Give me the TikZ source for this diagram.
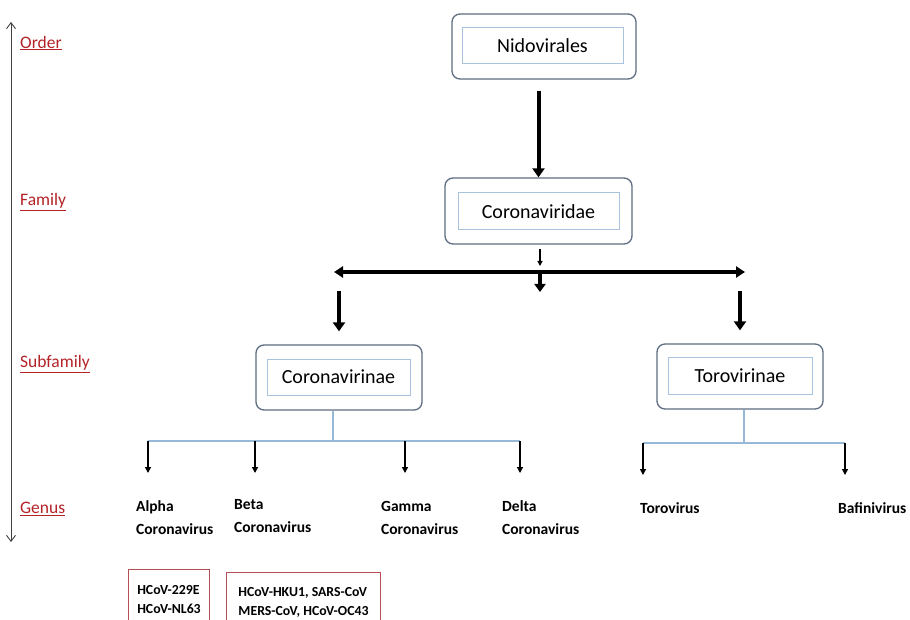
\documentclass[tikz,border=0pt]{standalone}
\usepackage{fontspec}
\setmainfont{Carlito}
\usetikzlibrary{arrows.meta,calc}
\definecolor{lblred}{RGB}{180,35,40}
\definecolor{outerc}{RGB}{95,110,130}
\definecolor{innerc}{RGB}{170,195,220}
\definecolor{linkc}{RGB}{150,185,215}
\definecolor{boxred}{RGB}{180,80,85}
\tikzset{
  outerbox/.style={draw=outerc, line width=1.3pt, rounded corners=8pt, minimum width=#1, minimum height=65pt},
  innerbox/.style={draw=innerc, line width=1pt, minimum width=#1, minimum height=36pt, font=\fontsize{20}{22}\selectfont, inner sep=0pt},
  rank/.style={anchor=west, text=lblred, font=\fontsize{17.5}{19}\selectfont, inner sep=0pt},
  genus/.style={anchor=west, align=left, font=\bfseries\fontsize{15.5}{23}\selectfont, inner sep=0pt},
  hcov/.style={draw=boxred, line width=1pt, align=left, anchor=north west, font=\bfseries\fontsize{13.8}{19.5}\selectfont, inner xsep=7pt, inner ysep=4pt, text depth=0pt},
  thickarr/.style={line width=4pt, -{Triangle[length=9pt,width=12pt]}},
  thinarr/.style={line width=1.3pt, -{Triangle[length=6pt,width=6pt]}},
  link/.style={draw=linkc, line width=1.2pt},
}
\begin{document}
\begin{tikzpicture}[x=1pt,y=-1pt]
\useasboundingbox (0,0) rectangle (910,620);
\clip (0,0) rectangle (910,620);
\fill[white] (0,0) rectangle (910,620);

% rank axis
\coordinate (axT) at (11,22);
\coordinate (axB) at (11,542);
\draw[line width=0.9pt, draw=black!75, {Straight Barb[length=6pt,width=9pt]}-{Straight Barb[length=6pt,width=9pt]}] (axT) -- (axB);
\node[rank] (order) at (20,43) {\underline{Order}};
\node[rank] (family) at (20,202) {\underline{Family}};
\node[rank] (subfamily) at (20,364) {\underline{Subfamily}};
\node[rank] (genusl) at (20,509) {\underline{Genus}};

% taxa boxes
\node[outerbox=184pt] (nido) at (544,46.5) {};
\node[innerbox=161pt] (nidoi) at (542.5,46) {Nidovirales};
\node[outerbox=187pt, minimum height=66pt] (cvd) at (538.5,211) {};
\node[innerbox=161pt, minimum height=37pt] (cvdi) at (538.5,211.5) {Coronaviridae};
\node[outerbox=166pt] (cvn) at (339,377.5) {};
\node[innerbox=143pt] (cvni) at (338.5,377) {Coronavirinae};
\node[outerbox=166pt] (tvn) at (740,376.5) {};
\node[innerbox=144pt, minimum height=37pt] (tvni) at (740,375.5) {Torovirinae};

% Nidovirales -> Coronaviridae
\draw[thickarr] ($(nido.south -| cvd.north)+(0,11)$) -- (cvd.north);

% branching bar
\coordinate (barL) at (334,272);
\coordinate (barR) at (745,272);
\coordinate (barC) at (540,272);
\coordinate (barD) at (540,292);
\draw[line width=1.2pt, -{Triangle[length=5pt,width=5pt]}] ($(cvd.south)+(1.5,4)$) -- ($(barC)+(0,-6)$);
\draw[line width=4pt, {Triangle[length=9pt,width=11pt]}-{Triangle[length=9pt,width=11pt]}] (barL) -- (barR);
\draw[line width=4pt, -{Triangle[length=8pt,width=11pt]}] (barC) -- (barD);
\coordinate (subL) at (339,291);
\coordinate (subR) at (740,291);
\draw[thickarr] (subL) -- ($(cvn.north)+(0,-13)$);
\draw[thickarr] (subR) -- ($(tvn.north)+(0,-13)$);

% Coronavirinae branches
\coordinate (cj) at (333,441);
\coordinate (a1) at (148,441);
\coordinate (a2) at (255,441);
\coordinate (a3) at (405,441);
\coordinate (a4) at (520,441);
\draw[link] (cvn.south -| cj) -- (cj);
\draw[link] (a1) -- (a4);
\foreach \c in {a1,a2,a3,a4} {\draw[thinarr] (\c) -- ++(0,32);}

% Torovirinae branches
\coordinate (tj) at (744,443);
\coordinate (t1) at (643,443);
\coordinate (t2) at (845,443);
\draw[link] (tvn.south -| tj) -- (tj);
\draw[link] (t1) -- (t2);
\foreach \c in {t1,t2} {\draw[thinarr] (\c) -- ++(0,32);}

% genus labels
\node[genus] (alpha) at (136,518) {Alpha\\Coronavirus};
\node[genus] (beta) at (234,516) {Beta\\Coronavirus};
\node[genus] (gamma) at (381,518) {Gamma\\Coronavirus};
\node[genus] (delta) at (502,518) {Delta\\Coronavirus};
\node[genus] (toro) at (640,508) {Torovirus};
\node[genus] (bafi) at (838,508) {Bafinivirus};

% species boxes
\node[hcov, minimum width=81pt, minimum height=60pt] (sp1) at (128,569) {HCoV-229E\\HCoV-NL63};
\node[hcov, minimum width=154pt, minimum height=58pt] (sp2) at (226,572) {HCoV-HKU1, SARS-CoV\\MERS-CoV, HCoV-OC43};
\end{tikzpicture}
\end{document}
